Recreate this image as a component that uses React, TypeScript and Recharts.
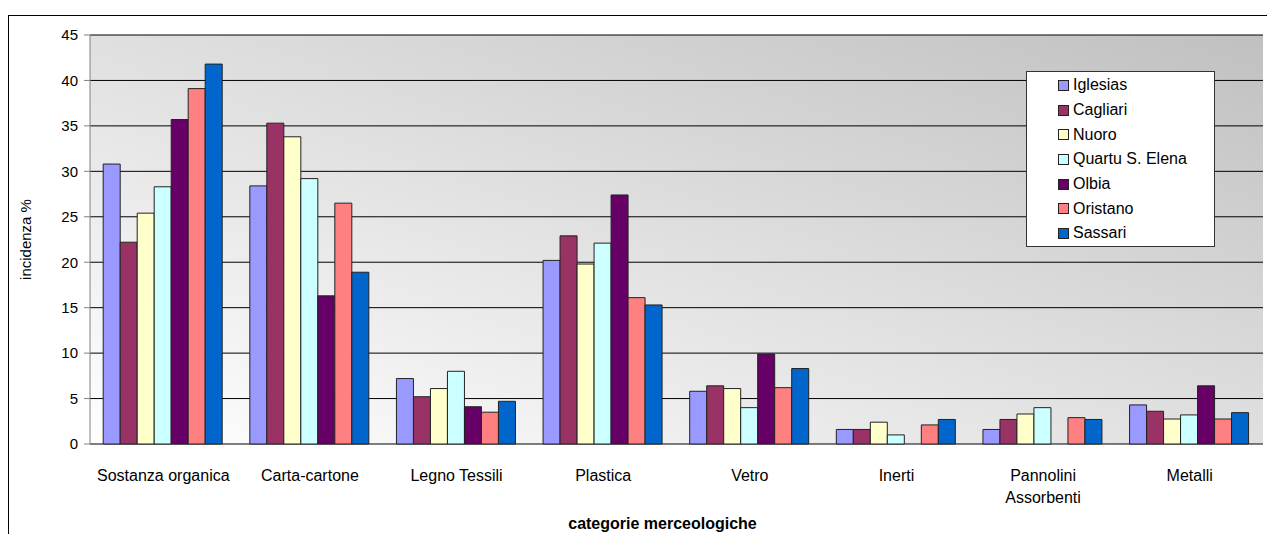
import { BarChart, Bar, XAxis, YAxis, CartesianGrid, Legend } from "recharts"

const categories = [
  "Sostanza organica",
  "Carta-cartone",
  "Legno Tessili",
  "Plastica",
  "Vetro",
  "Inerti",
  "Pannolini\nAssorbenti",
  "Metalli",
]

const iglesias = [30.8, 28.4, 7.2, 20.2, 5.8, 1.6, 1.6, 4.3]
const cagliari = [22.2, 35.3, 5.2, 22.9, 6.4, 1.6, 2.7, 3.6]
const nuoro = [25.4, 33.8, 6.1, 19.8, 6.1, 2.4, 3.3, 2.75]
const quartu = [28.3, 29.2, 8.0, 22.1, 4.0, 1.0, 4.0, 3.2]
const olbia = [35.7, 16.3, 4.1, 27.4, 9.9, 0, 0, 6.4]
const oristano = [39.1, 26.5, 3.5, 16.1, 6.2, 2.1, 2.9, 2.75]
const sassari = [41.8, 18.9, 4.7, 15.3, 8.3, 2.7, 2.7, 3.45]

const yTicks = [0, 5, 10, 15, 20, 25, 30, 35, 40, 45]
const edgeTicks = [0, 1, 2, 3, 4, 5, 6, 7, 8]

const series = [
  { key: "iglesias", name: "Iglesias", values: iglesias, color: "#9999FF" },
  { key: "cagliari", name: "Cagliari", values: cagliari, color: "#993366" },
  { key: "nuoro", name: "Nuoro", values: nuoro, color: "#FFFFCC" },
  { key: "quartu", name: "Quartu S. Elena", values: quartu, color: "#CCFFFF" },
  { key: "olbia", name: "Olbia", values: olbia, color: "#660066" },
  { key: "oristano", name: "Oristano", values: oristano, color: "#FF8080" },
  { key: "sassari", name: "Sassari", values: sassari, color: "#0066CC" },
]

const data = categories.map((cat, i) => {
  const row: any = { cat }
  series.forEach((s) => {
    row[s.key] = s.values[i]
  })
  return row
})

const font = "'Liberation Sans', Arial, sans-serif"

const CategoryTick = (props: any) => {
  const { x, y, payload } = props
  const lines = String(payload.value).split("\n")
  return (
    <text x={x} y={y + 29} textAnchor="middle" fontSize={16} fill="#000" fontFamily={font}>
      {lines.map((l, i) => (
        <tspan key={i} x={x} dy={i === 0 ? 0 : 22}>
          {l}
        </tspan>
      ))}
    </text>
  )
}

const LegendBox = () => (
  <div
    style={{
      width: 187,
      height: 173,
      border: "1px solid #333",
      background: "#fff",
      fontFamily: font,
      fontSize: 16,
      paddingTop: 1,
      boxSizing: "content-box",
    }}
  >
    {series.map((s) => (
      <div key={s.key} style={{ height: 24.7, display: "flex", alignItems: "center", paddingLeft: 31 }}>
        <span
          style={{
            width: 9,
            height: 9,
            background: s.color,
            border: "1px solid #222",
            marginRight: 4,
            display: "inline-block",
            flexShrink: 0,
          }}
        />
        <span style={{ color: "#000", whiteSpace: "nowrap" }}>{s.name}</span>
      </div>
    ))}
  </div>
)

export default function App() {
  return (
    <div style={{ position: "absolute", left: 0, top: 0, width: 1267, height: 534, background: "#fff", overflow: "hidden" }}>
      <div style={{ position: "absolute", left: 8, top: 15, width: 1320, height: 600, border: "1px solid #000" }} />
      <div style={{ position: "absolute", left: 0, top: 0 }}>
        <BarChart
          width={1267}
          height={534}
          data={data}
          margin={{ top: 35, right: 4, left: 0, bottom: 0 }}
          barCategoryGap="9%"
          barGap={0}
        >
          <defs>
            <linearGradient id="plotBg" x1="0" y1="1" x2="1" y2="0">
              <stop offset="0%" stopColor="#ffffff" />
              <stop offset="100%" stopColor="#c0c0c0" />
            </linearGradient>
          </defs>
          <CartesianGrid vertical={false} stroke="#000" fill="url(#plotBg)" fillOpacity={1} />
          <XAxis
            xAxisId="edge"
            type="number"
            dataKey={() => 0}
            domain={[0, 8]}
            ticks={edgeTicks}
            tick={() => <g />}
            tickSize={6}
            height={0}
            stroke="#808080"
            axisLine={{ stroke: "#808080" }}
            tickLine={{ stroke: "#808080" }}
          />
          <XAxis
            xAxisId="cat"
            dataKey="cat"
            height={90}
            axisLine={false}
            tickLine={false}
            tick={<CategoryTick />}
            interval={0}
            label={{
              value: "categorie merceologiche",
              position: "insideBottom",
              offset: 5,
              dx: -14,
              style: { fontFamily: font, fontSize: 16, fontWeight: "bold", fill: "#000" },
            }}
          />
          <YAxis
            width={90}
            domain={[0, 45]}
            ticks={yTicks}
            interval={0}
            tickSize={6}
            tickMargin={6}
            axisLine={{ stroke: "#808080" }}
            tickLine={{ stroke: "#808080" }}
            tick={{ fill: "#000", fontSize: 15, fontFamily: font }}
            label={{
              value: "incidenza %",
              angle: -90,
              position: "insideLeft",
              offset: 26,
              style: { fontFamily: font, fontSize: 15, fill: "#000", textAnchor: "middle" },
            }}
          />
          <Legend
            layout="vertical"
            align="center"
            verticalAlign="middle"
            content={<LegendBox />}
            wrapperStyle={{ left: 1026, top: 71, width: 189, height: 175 }}
          />
          {series.map((s) => (
            <Bar
              key={s.key}
              xAxisId="cat"
              dataKey={s.key}
              name={s.name}
              fill={s.color}
              stroke="#222"
              strokeWidth={1}
              isAnimationActive={false}
            />
          ))}
        </BarChart>
      </div>
    </div>
  )
}
